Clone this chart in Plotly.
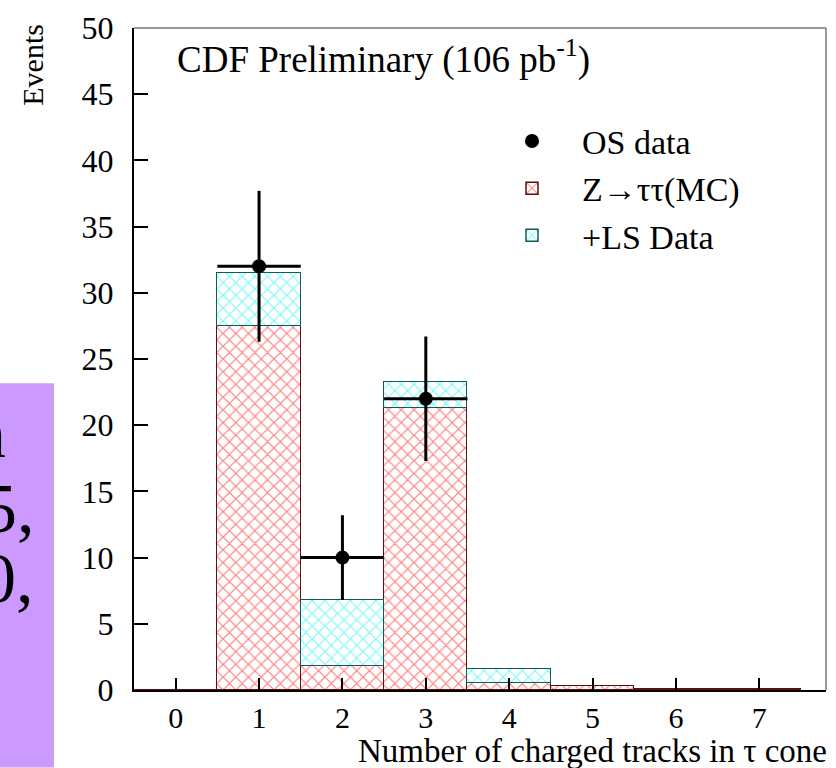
import plotly.graph_objects as go

# ---- data ----
bins = [0, 1, 2, 3, 4, 5, 6, 7]
mc_ztautau = [0.0, 27.5, 1.8, 21.3, 0.55, 0.3, 0.05, 0.05]
ls_data = [None, 4.0, 5.0, 2.0, 1.05, None, None, None]
os_x = [1, 2, 3]
os_y = [32, 10, 22]
os_err = [5.7, 3.2, 4.7]

W, H = 836, 768
ML, MR, MT, MB = 134, 10, 23, 78
PW, PH = W - ML - MR, H - MT - MB
FONT = "Liberation Serif, Times New Roman, serif"


def px_x(p):
    return (p - ML) / PW


def px_y(p):
    return (H - MB - p) / PH


fig = go.Figure()

fig.add_trace(go.Scatter(
    x=os_x, y=os_y, mode="markers", name="OS data",
    marker=dict(color="black", size=14),
    error_y=dict(type="data", array=os_err, color="black", thickness=3, width=0),
    error_x=dict(type="constant", value=0.5, color="black", thickness=3, width=0),
    legendrank=1,
))
fig.add_trace(go.Bar(
    x=bins, y=mc_ztautau, width=1, name="Z\u2192\u03c4\u03c4(MC)",
    marker=dict(color="white", line=dict(color="#5a1010", width=1.5),
                pattern=dict(shape="x", fgcolor="#ff0000", bgcolor="white",
                             size=9, solidity=0.25)),
    legendrank=2,
))
fig.add_trace(go.Bar(
    x=bins, y=ls_data, width=1, name="+LS Data",
    marker=dict(color="white", line=dict(color="#105a5a", width=1.5),
                pattern=dict(shape="x", fgcolor="#00eeee", bgcolor="white",
                             size=9, solidity=0.25)),
    legendrank=3,
))

fig.update_layout(
    width=W, height=H,
    margin=dict(l=ML, r=MR, t=MT, b=MB),
    paper_bgcolor="white", plot_bgcolor="white",
    barmode="stack", bargap=0,
    font=dict(family=FONT, color="black", size=32),
    showlegend=True,
    legend=dict(x=px_x(482), y=px_y(108), xanchor="left", yanchor="top",
                bgcolor="rgba(0,0,0,0)", font=dict(size=34, family=FONT),
                itemwidth=90, tracegroupgap=0, traceorder="normal"),
    xaxis=dict(range=[-0.5, 7.8], tickvals=bins, ticks="inside", ticklen=12,
               tickwidth=1.5, tickcolor="black", showline=True, linecolor="black",
               linewidth=2, showgrid=False, zeroline=False,
               tickfont=dict(size=30, family=FONT), ticklabelstandoff=0),
    yaxis=dict(range=[0, 50], dtick=5, ticks="inside", ticklen=14,
               tickwidth=1.5, tickcolor="black", showline=True, linecolor="black",
               linewidth=2, showgrid=False, zeroline=False,
               tickfont=dict(size=32, family=FONT), ticklabelstandoff=12),
)

shapes = [
    dict(type="rect", xref="paper", yref="paper", x0=px_x(0), x1=px_x(54),
         y0=px_y(768), y1=px_y(381), fillcolor="#cc99ff", line=dict(width=0),
         layer="below"),
    dict(type="line", xref="paper", yref="paper", x0=0, x1=1, y0=1, y1=1,
         line=dict(color="#777777", width=1.5)),
    dict(type="line", xref="paper", yref="paper", x0=1, x1=1, y0=0, y1=1,
         line=dict(color="#777777", width=1.5)),
]
fig.update_layout(shapes=shapes)

annotations = [
    dict(text="CDF Preliminary (106 pb<sup>-1</sup>)", xref="paper", yref="paper",
         x=px_x(175), y=px_y(52), xanchor="left", yanchor="middle",
         showarrow=False, font=dict(size=37, family=FONT)),
    dict(text="Number of charged tracks in \u03c4 cone", xref="paper", yref="paper",
         x=px_x(829), y=px_y(751), xanchor="right", yanchor="middle",
         showarrow=False, font=dict(size=33, family=FONT)),
    dict(text="Events", xref="paper", yref="paper", textangle=-90,
         x=px_x(33), y=px_y(60), xanchor="center", yanchor="middle",
         showarrow=False, font=dict(size=30, family=FONT)),
    dict(text="n", xref="paper", yref="paper", x=px_x(8), y=px_y(432),
         xanchor="right", yanchor="middle", showarrow=False,
         font=dict(size=70, family=FONT)),
    dict(text="5,", xref="paper", yref="paper", x=px_x(37), y=px_y(507),
         xanchor="right", yanchor="middle", showarrow=False,
         font=dict(size=70, family=FONT)),
    dict(text="0,", xref="paper", yref="paper", x=px_x(36), y=px_y(578),
         xanchor="right", yanchor="middle", showarrow=False,
         font=dict(size=70, family=FONT)),
]
fig.update_layout(annotations=annotations)

fig.write_html("out.html")
